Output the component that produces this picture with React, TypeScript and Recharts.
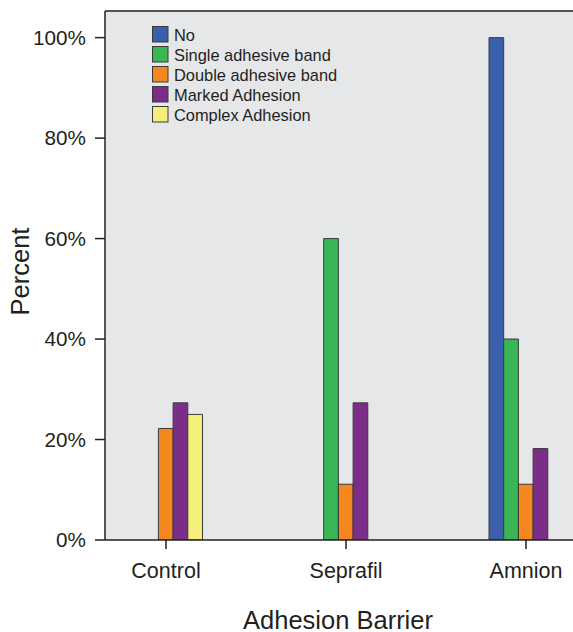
import { BarChart, Bar, XAxis, YAxis, CartesianGrid, ReferenceLine } from 'recharts'

const categories = ['Control', 'Seprafil', 'Amnion']
const noAdhesion = [null, null, 100]
const singleBand = [null, 60, 40]
const doubleBand = [22.2, 11.1, 11.1]
const markedAdhesion = [27.3, 27.3, 18.2]
const complexAdhesion = [25, null, null]
const yTicks = [0, 20, 40, 60, 80, 100]
const Y_MAX = 105.3

const series = [
  { key: 'No', values: noAdhesion, color: '#3c5fab' },
  { key: 'Single adhesive band', values: singleBand, color: '#3ab654' },
  { key: 'Double adhesive band', values: doubleBand, color: '#f5871f' },
  { key: 'Marked Adhesion', values: markedAdhesion, color: '#7a2e88' },
  { key: 'Complex Adhesion', values: complexAdhesion, color: '#f3ef78' },
]

const data = categories.map((c, i) => {
  const row: Record<string, any> = { name: c }
  series.forEach(s => { row[s.key] = s.values[i] })
  return row
})

const FONT = '"Liberation Sans", Arial, sans-serif'
const INK = '#231f20'

export default function App() {
  return (
    <div style={{ position: 'absolute', left: 0, top: 0, width: 573, height: 632, overflow: 'hidden', background: '#fff', fontFamily: FONT }}>
      <BarChart
        width={640}
        height={632}
        data={data}
        margin={{ top: 11, right: 24, left: 0, bottom: 0 }}
        barGap={0}
        barSize={14.7}
      >
        <CartesianGrid horizontal={false} vertical={false} fill="#e6e7e9" />
        <ReferenceLine y={Y_MAX} stroke={INK} strokeWidth={1.5} />
        <XAxis
          dataKey="name"
          height={92}
          padding={{ left: -29, right: 0 }}
          tickSize={9}
          tickMargin={14}
          tick={{ fontSize: 21.5, fill: INK, fontFamily: FONT }}
          axisLine={{ stroke: INK, strokeWidth: 1.5 }}
          tickLine={{ stroke: INK, strokeWidth: 1.5 }}
        />
        <YAxis
          width={105}
          domain={[0, Y_MAX]}
          ticks={yTicks}
          tickFormatter={(v: number) => `${v}%`}
          tickSize={10}
          tickMargin={9}
          tick={{ fontSize: 20.7, fill: INK, fontFamily: FONT }}
          axisLine={{ stroke: INK, strokeWidth: 1.5 }}
          tickLine={{ stroke: INK, strokeWidth: 1.5 }}
          allowDataOverflow
        />
        {series.map(s => (
          <Bar key={s.key} dataKey={s.key} fill={s.color} stroke="#3a3a3a" strokeWidth={1} isAnimationActive={false} />
        ))}
      </BarChart>
      <svg width={573} height={632} style={{ position: 'absolute', left: 0, top: 0, pointerEvents: 'none' }}>
        {series.map((s, i) => (
          <g key={s.key}>
            <rect x={152.5} y={26.5 + i * 20} width={15.5} height={15.5} fill={s.color} stroke="#3a3a3a" strokeWidth={1} />
            <text x={174} y={40.5 + i * 20} fontSize={16.4} fill={INK} fontFamily={FONT}>{s.key}</text>
          </g>
        ))}
        <text x={338} y={628.5} textAnchor="middle" fontSize={25.5} fill={INK} fontFamily={FONT}>Adhesion Barrier</text>
        <text x={28.5} y={271.5} transform="rotate(-90 28.5 271.5)" textAnchor="middle" fontSize={25.5} fill={INK} fontFamily={FONT}>Percent</text>
      </svg>
    </div>
  )
}
